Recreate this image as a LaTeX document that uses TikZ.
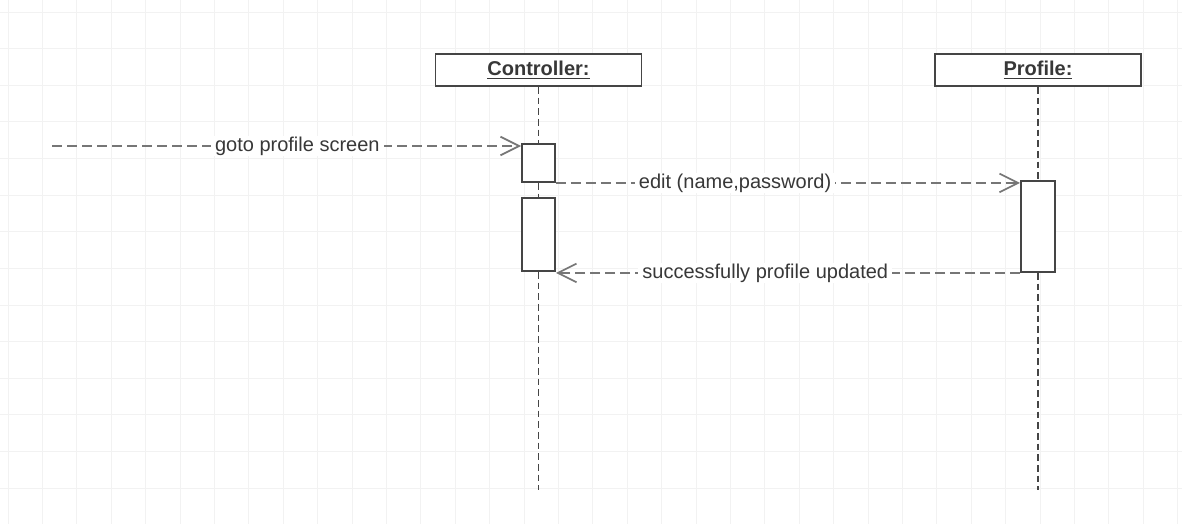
\documentclass[tikz,border=0pt]{standalone}
\usepackage{fontspec}
\setmainfont{Liberation Sans}
\usetikzlibrary{arrows.meta,calc}

\newdimen\pxu
\pxu=0.75pt

\definecolor{gridc}{HTML}{F2F2F2}
\definecolor{boxc}{HTML}{454545}
\definecolor{msgc}{HTML}{767676}
\definecolor{txtc}{HTML}{383838}

\tikzset{
  header/.style={draw=boxc, line width=1.4pt, fill=white, minimum width=206\pxu,
    minimum height=32\pxu, inner sep=0pt, text=txtc,
    font=\fontsize{15}{18}\selectfont\bfseries},
  activation/.style={draw=boxc, line width=1.4pt, fill=white, minimum width=33\pxu,
    inner sep=0pt},
  lifeline/.style={draw=boxc, line width=1.3pt, dash pattern=on 5pt off 3pt},
  message/.style={draw=msgc, line width=1.5pt, dash pattern=on 7.5pt off 3.75pt,
    -{Straight Barb[length=14pt, width=14pt, line width=1.3pt]}},
  msglabel/.style={fill=white, inner xsep=3pt, inner ysep=0.75pt, text=txtc,
    font=\fontsize{15}{18}\selectfont},
}

\begin{document}
\begin{tikzpicture}[x=0.75pt, y=-0.75pt]
  \useasboundingbox (0,0) rectangle (1182,524);
  \fill[white] (0,0) rectangle (1182,524);

  % background grid
  \foreach \gx in {0,...,34} {
    \draw[gridc, line width=0.75pt] ({8+34.4*\gx},0) -- ({8+34.4*\gx},524);
  }
  \foreach \gy in {0,...,14} {
    \draw[gridc, line width=0.75pt] (0,{12.2+36.6*\gy}) -- (1182,{12.2+36.6*\gy});
  }

  % object headers
  \node[header] (ctl) at (538.5,70) {\underline{Controller:}};
  \node[header] (prf) at (1038,70) {\underline{Profile:}};

  % activation bars
  \node[activation, minimum height=38\pxu] (act1) at (538.5,163) {};
  \node[activation, minimum height=73\pxu] (act2) at (538.5,234.5) {};
  \node[activation, minimum width=34\pxu, minimum height=91\pxu] (act3) at (1038,226.5) {};

  % lifeline ends
  \coordinate (ctlend) at (538.5,490);
  \coordinate (prfend) at (1038,490);

  % lifelines
  \draw[lifeline] (ctl.south) -- (act1.north);
  \draw[lifeline] (act1.south) -- (act2.north);
  \draw[lifeline] (act2.south) -- (ctlend);
  \draw[lifeline] (prf.south) -- (act3.north);
  \draw[lifeline] (act3.south) -- (prfend);

  % found message
  \coordinate (src) at (52,146);

  % messages
  \draw[message] (src) -- node[msglabel, pos=0.523] {goto profile screen} (src -| act1.west);
  \draw[message] (act1.south east) -- node[msglabel, pos=0.386] {edit (name,password)} (act1.south east -| act3.west);
  \draw[message] (act3.south west) -- node[msglabel, pos=0.549] {successfully profile updated} (act3.south west -| act2.east);
\end{tikzpicture}
\end{document}
